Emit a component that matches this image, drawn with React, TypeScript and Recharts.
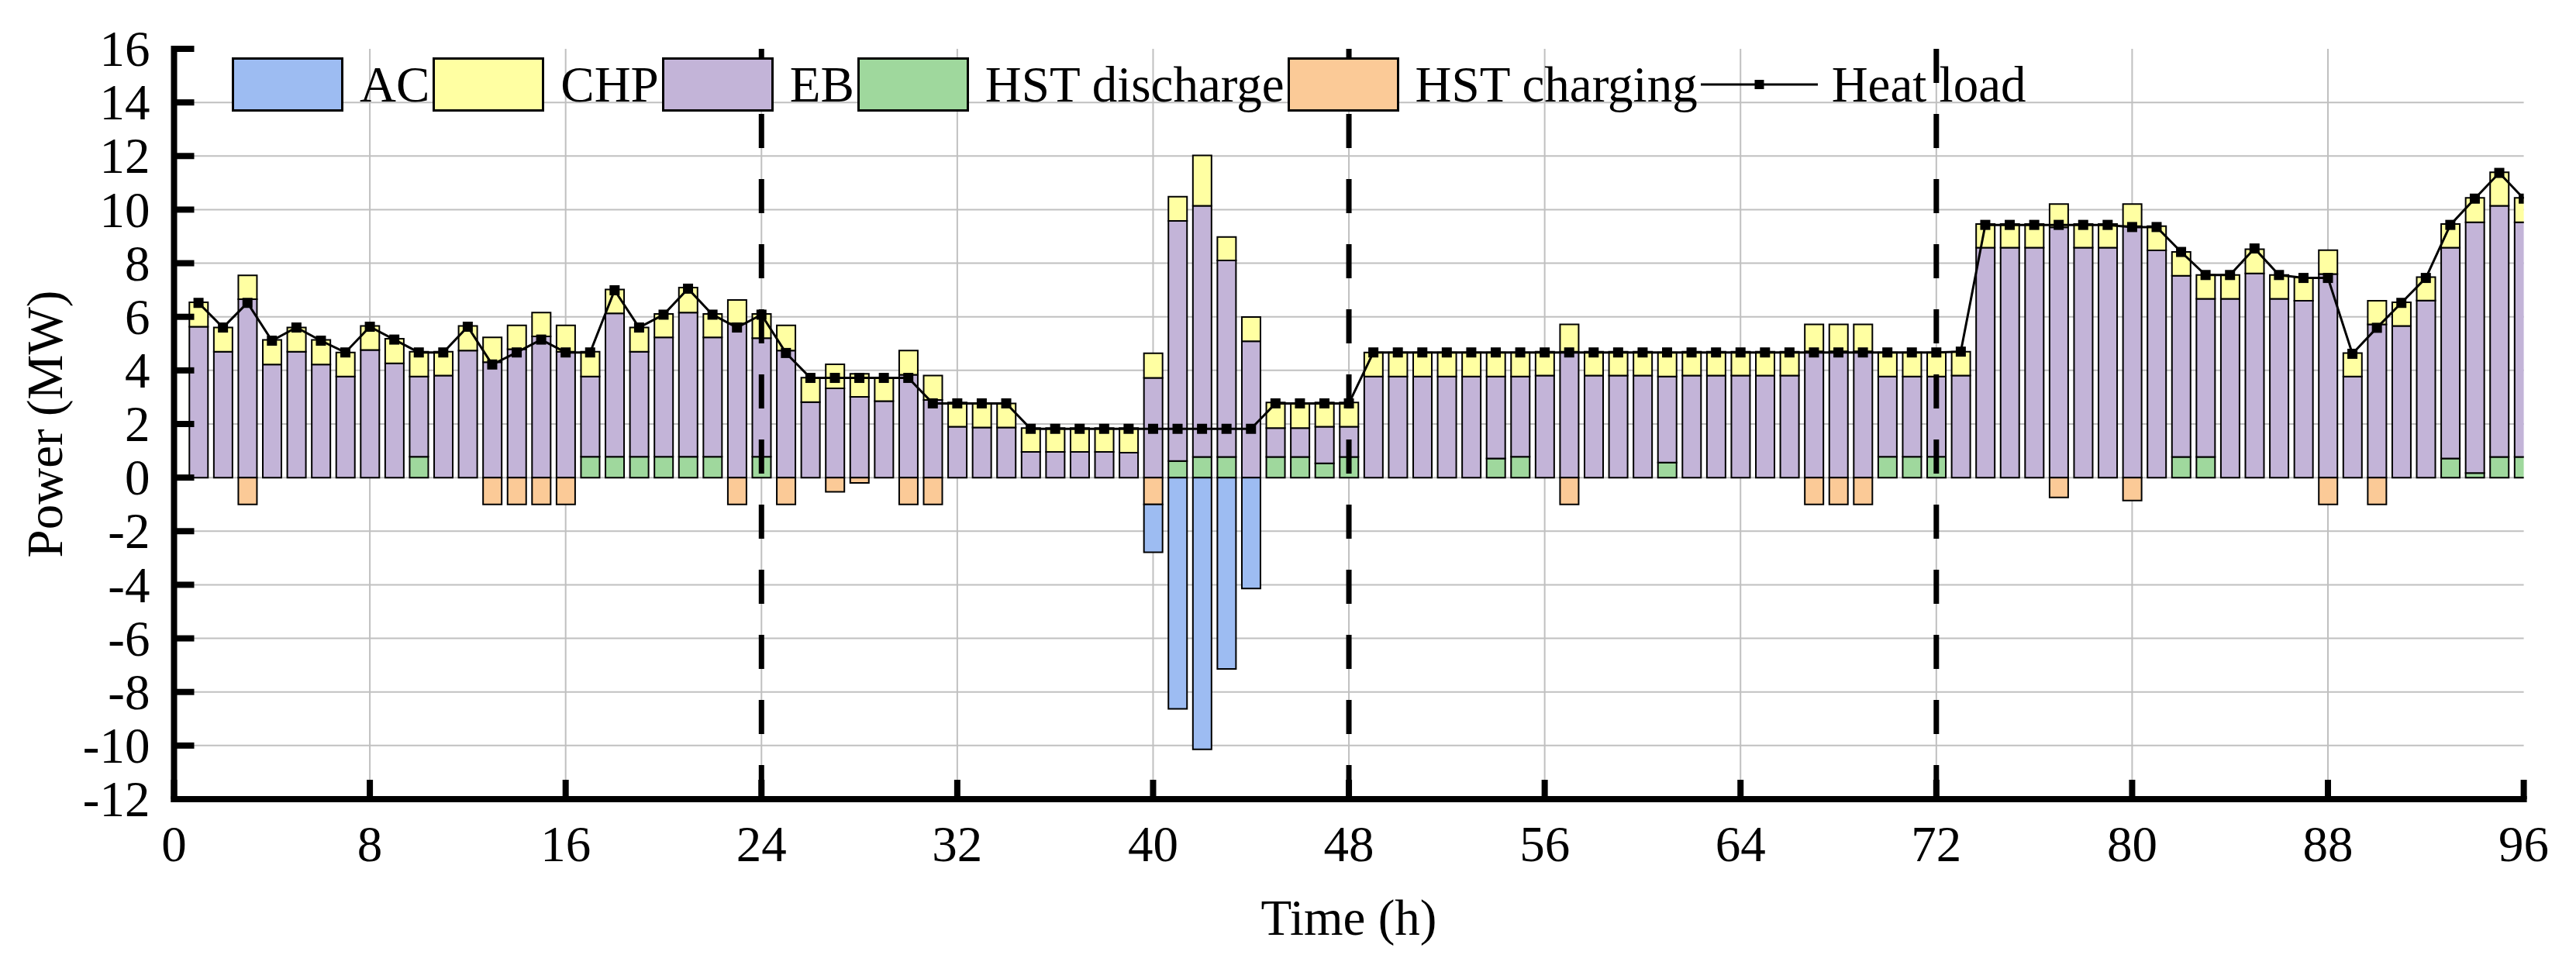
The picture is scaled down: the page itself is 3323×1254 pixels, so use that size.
import React from 'react';
import { ComposedChart, Bar, Line, XAxis, YAxis, CartesianGrid, ReferenceLine, Label } from 'recharts';

// hourly time steps 1..96
const hours = Array.from({ length: 96 }, (_, i) => i + 1);

const hstDischarge = [
  0, 0, 0, 0, 0, 0, 0, 0, 0, 0.78, 0, 0, 0, 0, 0, 0, 0.78, 0.78, 0.78, 0.78, 0.78, 0.78, 0, 0.78,
  0, 0, 0, 0, 0, 0, 0, 0, 0, 0, 0, 0, 0, 0, 0, 0, 0.62, 0.77, 0.77, 0, 0.77, 0.77, 0.53, 0.77,
  0, 0, 0, 0, 0, 0.71, 0.78, 0, 0, 0, 0, 0, 0.56, 0, 0, 0, 0, 0, 0, 0, 0, 0.78, 0.78, 0.78,
  0, 0, 0, 0, 0, 0, 0, 0, 0, 0.77, 0.77, 0, 0, 0, 0, 0, 0, 0, 0, 0, 0.71, 0.17, 0.77, 0.77,
];

const eb = [
  5.63, 4.7, 6.66, 4.22, 4.7, 4.22, 3.77, 4.76, 4.26, 2.99, 3.81, 4.74, 4.31, 4.79, 5.27, 4.7, 2.99, 5.35, 3.92, 4.45, 5.38, 4.45, 5.75, 4.42,
  4.74, 2.82, 3.33, 3.01, 2.85, 3.84, 2.9, 1.9, 1.87, 1.87, 0.96, 0.96, 0.96, 0.96, 0.93, 3.72, 8.96, 9.37, 7.33, 5.09, 1.08, 1.08, 1.37, 1.13,
  3.77, 3.77, 3.77, 3.77, 3.77, 3.06, 2.99, 3.81, 4.7, 3.81, 3.81, 3.81, 3.21, 3.81, 3.81, 3.81, 3.81, 3.81, 4.71, 4.71, 4.71, 2.99, 2.99, 2.99,
  3.81, 8.58, 8.58, 8.58, 9.34, 8.58, 8.58, 9.38, 8.48, 6.76, 5.9, 6.67, 7.62, 6.67, 6.6, 7.6, 3.77, 5.72, 5.66, 6.61, 7.87, 9.36, 9.37, 8.76,
];

const chp = [
  0.91, 0.9, 0.89, 0.92, 0.9, 0.92, 0.9, 0.9, 0.92, 0.93, 0.89, 0.92, 0.92, 0.89, 0.89, 0.98, 0.93, 0.89, 0.9, 0.88, 0.93, 0.88, 0.88, 0.91,
  0.94, 0.91, 0.9, 0.86, 0.88, 0.9, 0.91, 0.9, 0.9, 0.9, 0.89, 0.89, 0.89, 0.89, 0.92, 0.92, 0.9, 1.88, 0.88, 0.9, 0.95, 0.91, 0.9, 0.9,
  0.9, 0.9, 0.9, 0.9, 0.9, 0.9, 0.9, 0.89, 1.02, 0.89, 0.89, 0.89, 0.9, 0.89, 0.89, 0.89, 0.89, 0.89, 1.01, 1.01, 1.01, 0.9, 0.9, 0.9,
  0.89, 0.88, 0.88, 0.88, 0.87, 0.88, 0.88, 0.83, 0.9, 0.89, 0.89, 0.89, 0.9, 0.89, 0.87, 0.89, 0.88, 0.88, 0.88, 0.87, 0.88, 0.91, 1.25, 0.91,
];

const hstCharging = [
  0, 0, -1, 0, 0, 0, 0, 0, 0, 0, 0, 0, -1, -1, -1, -1, 0, 0, 0, 0, 0, 0, -1, 0,
  -1, 0, -0.53, -0.2, 0, -1, -1, 0, 0, 0, 0, 0, 0, 0, 0, -1, 0, 0, 0, 0, 0, 0, 0, 0,
  0, 0, 0, 0, 0, 0, 0, 0, -1, 0, 0, 0, 0, 0, 0, 0, 0, 0, -1, -1, -1, 0, 0, 0,
  0, 0, 0, 0, -0.74, 0, 0, -0.86, 0, 0, 0, 0, 0, 0, 0, -1, 0, -1, 0, 0, 0, 0, 0, 0,
];

const ac = [
  0, 0, 0, 0, 0, 0, 0, 0, 0, 0, 0, 0, 0, 0, 0, 0, 0, 0, 0, 0, 0, 0, 0, 0,
  0, 0, 0, 0, 0, 0, 0, 0, 0, 0, 0, 0, 0, 0, 0, -1.79, -8.63, -10.14, -7.14, -4.14, 0, 0, 0, 0,
  0, 0, 0, 0, 0, 0, 0, 0, 0, 0, 0, 0, 0, 0, 0, 0, 0, 0, 0, 0, 0, 0, 0, 0,
  0, 0, 0, 0, 0, 0, 0, 0, 0, 0, 0, 0, 0, 0, 0, 0, 0, 0, 0, 0, 0, 0, 0, 0,
];

const heatLoad = [
  6.52, 5.6, 6.52, 5.11, 5.6, 5.11, 4.67, 5.63, 5.15, 4.67, 4.67, 5.63, 4.22, 4.67, 5.15, 4.67, 4.67, 6.99, 5.6, 6.08, 7.05, 6.08, 5.6, 6.08,
  4.65, 3.72, 3.72, 3.72, 3.72, 3.72, 2.77, 2.77, 2.77, 2.77, 1.82, 1.82, 1.82, 1.82, 1.82, 1.82, 1.82, 1.82, 1.82, 1.82, 2.77, 2.77, 2.77, 2.77,
  4.67, 4.67, 4.67, 4.67, 4.67, 4.67, 4.67, 4.67, 4.67, 4.67, 4.67, 4.67, 4.67, 4.67, 4.67, 4.67, 4.67, 4.67, 4.67, 4.67, 4.67, 4.67, 4.67, 4.67,
  4.7, 9.43, 9.43, 9.43, 9.43, 9.43, 9.43, 9.35, 9.35, 8.42, 7.56, 7.56, 8.55, 7.56, 7.45, 7.45, 4.62, 5.59, 6.52, 7.45, 9.43, 10.41, 11.37, 10.41,
];

const xTicks = [0, 8, 16, 24, 32, 40, 48, 56, 64, 72, 80, 88, 96];
const yTicks = [-12, -10, -8, -6, -4, -2, 0, 2, 4, 6, 8, 10, 12, 14, 16];
const dayBounds = [24, 48, 72];

const COLORS = {
  ac: '#9DBCF2',
  chp: '#FFFFA2',
  eb: '#C3B4D8',
  hstDis: '#9FD89D',
  hstChg: '#FBCA97',
};

const legendItems = [
  { name: 'AC', color: COLORS.ac },
  { name: 'CHP', color: COLORS.chp },
  { name: 'EB', color: COLORS.eb },
  { name: 'HST discharge', color: COLORS.hstDis },
  { name: 'HST charging', color: COLORS.hstChg },
];

const rows = hours.map((h, i) => ({
  hour: h,
  hstDischarge: hstDischarge[i],
  eb: eb[i],
  chp: chp[i],
  hstCharging: hstCharging[i],
  ac: ac[i],
  heatLoad: heatLoad[i],
}));

const W = 3323;
const H = 1254;
const FONT = '"Liberation Serif", "Times New Roman", serif';
const FS = 65;
const PLOT_L = 224.5;
const PLOT_R = 3255.6;
const PLOT_T = 63;
const PLOT_B = 1031;
const Y_AXIS_W = 100;
const X_AXIS_H = H - PLOT_B;

const textStyle = { fontFamily: FONT, fontSize: FS };

const XTick = (props: any) => {
  const { x, y, payload } = props;
  return (
    <g>
      <line x1={x} x2={x} y1={y - 25} y2={y} stroke="#000" strokeWidth={8} />
      <text x={x} y={y + 80} textAnchor="middle" style={textStyle} fill="#000">
        {payload.value}
      </text>
    </g>
  );
};

const YTick = (props: any) => {
  const { x, y, payload } = props;
  return (
    <g>
      <line x1={PLOT_L} x2={PLOT_L + 26} y1={y} y2={y} stroke="#000" strokeWidth={8} />
      <text x={x} y={y} dy="0.34em" textAnchor="end" style={textStyle} fill="#000">
        {payload.value}
      </text>
    </g>
  );
};

const XTitle = (props: any) => {
  const vb = props.viewBox || {};
  return (
    <text x={vb.x + vb.width / 2} y={vb.y + 175} textAnchor="middle" style={textStyle} fill="#000">
      Time (h)
    </text>
  );
};

const YTitle = (props: any) => {
  const vb = props.viewBox || {};
  const cx = 80;
  const cy = vb.y + vb.height / 2;
  return (
    <text x={cx} y={cy} transform={`rotate(-90, ${cx}, ${cy})`} textAnchor="middle" style={textStyle} fill="#000">
      Power (MW)
    </text>
  );
};

const SquareDot = (props: any) => {
  const { cx, cy, index } = props;
  if (cx == null || cy == null) return <g key={`d${index}`} />;
  return <rect key={`d${index}`} x={cx - 6.5} y={cy - 6.5} width={13} height={13} fill="#000" />;
};

function ChartLegend() {
  return (
    <div
      style={{
        position: 'absolute',
        left: 299,
        top: 74,
        height: 70,
        display: 'flex',
        alignItems: 'center',
        fontFamily: FONT,
        fontSize: FS,
        lineHeight: '70px',
        whiteSpace: 'nowrap',
        color: '#000',
      }}
    >
      {legendItems.map((it) => (
        <React.Fragment key={it.name}>
          <div style={{ width: 144, height: 70, boxSizing: 'border-box', border: '3px solid #000', background: it.color }} />
          <span style={{ marginLeft: 21, marginRight: 4 }}>{it.name}</span>
        </React.Fragment>
      ))}
      <svg width={151} height={70} style={{ display: 'block' }}>
        <line x1={0} x2={151} y1={35} y2={35} stroke="#000" strokeWidth={3} />
        <rect x={69.5} y={29} width={12} height={12} fill="#000" />
      </svg>
      <span style={{ marginLeft: 18 }}>Heat load</span>
    </div>
  );
}

export default function App() {
  return (
    <div style={{ position: 'absolute', left: 0, top: 0, width: W, height: H, background: '#fff' }}>
      <ComposedChart
        width={W}
        height={H}
        data={rows}
        stackOffset="sign"
        margin={{ top: PLOT_T, right: W - PLOT_R, bottom: 0, left: PLOT_L - Y_AXIS_W }}
      >
        <CartesianGrid
          stroke="#C0C0C0"
          strokeWidth={2}
          horizontalValues={[-10, -8, -6, -4, -2, 0, 2, 4, 6, 8, 10, 12, 14]}
          verticalValues={[8, 16, 24, 32, 40, 48, 56, 64, 72, 80, 88]}
        />
        <XAxis
          type="number"
          dataKey="hour"
          domain={[0, 96]}
          ticks={xTicks}
          interval={0}
          height={X_AXIS_H}
          tickSize={0}
          tickMargin={0}
          tickLine={false}
          axisLine={{ stroke: '#000', strokeWidth: 8, strokeLinecap: 'square' }}
          tick={<XTick />}
          allowDataOverflow
        >
          <Label content={<XTitle />} />
        </XAxis>
        <YAxis
          type="number"
          domain={[-12, 16]}
          ticks={yTicks}
          interval={0}
          width={Y_AXIS_W}
          tickSize={0}
          tickMargin={31}
          tickLine={false}
          axisLine={{ stroke: '#000', strokeWidth: 8, strokeLinecap: 'square' }}
          tick={<YTick />}
          allowDataOverflow
        >
          <Label content={<YTitle />} />
        </YAxis>
        <Bar dataKey="hstDischarge" name="HST discharge" stackId="s" barSize={24} fill={COLORS.hstDis} stroke="#000" strokeWidth={2} isAnimationActive={false} />
        <Bar dataKey="eb" name="EB" stackId="s" barSize={24} fill={COLORS.eb} stroke="#000" strokeWidth={2} isAnimationActive={false} />
        <Bar dataKey="chp" name="CHP" stackId="s" barSize={24} fill={COLORS.chp} stroke="#000" strokeWidth={2} isAnimationActive={false} />
        <Bar dataKey="hstCharging" name="HST charging" stackId="s" barSize={24} fill={COLORS.hstChg} stroke="#000" strokeWidth={2} isAnimationActive={false} />
        <Bar dataKey="ac" name="AC" stackId="s" barSize={24} fill={COLORS.ac} stroke="#000" strokeWidth={2} isAnimationActive={false} />
        {dayBounds.map((d) => (
          <ReferenceLine
            key={d}
            segment={[{ x: d, y: 16 }, { x: d, y: -12 }]}
            stroke="#000"
            strokeWidth={7}
            strokeDasharray="44 40"
          />
        ))}
        <Line
          type="linear"
          dataKey="heatLoad"
          name="Heat load"
          stroke="#000"
          strokeWidth={3}
          dot={SquareDot}
          activeDot={false}
          isAnimationActive={false}
        />
      </ComposedChart>
      <ChartLegend />
    </div>
  );
}
